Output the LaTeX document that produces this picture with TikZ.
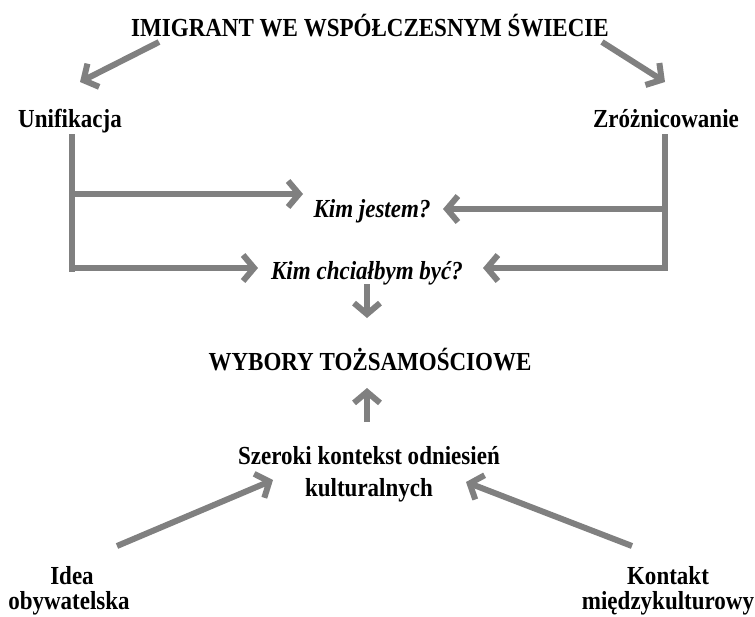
\documentclass[tikz,border=0pt]{standalone}
\usepackage{fontspec}
\setmainfont{Liberation Serif}[FakeStretch=0.885]
\usetikzlibrary{arrows.meta}
\definecolor{arrowgray}{RGB}{128,128,128}
\begin{document}
\begin{tikzpicture}[x=1pt,y=-1pt,
  lbl/.style={anchor=base,inner sep=0pt,font=\fontsize{26}{30}\selectfont\bfseries},
  qlbl/.style={lbl,font=\fontsize{26}{30}\selectfont\bfseries\itshape},
  conn/.style={draw=arrowgray,line width=6pt},
  arr/.style={conn,-{Straight Barb[length=11pt,width=26pt]}}]
\useasboundingbox (0,0) rectangle (755,616);
\node[lbl] (title) at (370,36) {IMIGRANT WE WSPÓŁCZESNYM ŚWIECIE};
\node[lbl] (unif) at (70,127) {Unifikacja};
\node[lbl] (zroz) at (666,127) {Zróżnicowanie};
\node[qlbl] (kim1) at (372,217) {Kim jestem?};
\node[qlbl] (kim2) at (367,279) {Kim chciałbym być?};
\node[lbl] (wyb) at (370,370) {WYBORY TOŻSAMOŚCIOWE};
\node[lbl] (szer) at (369,464) {Szeroki kontekst odniesień};
\node[lbl] (kult) at (369,496) {kulturalnych};
\node[lbl] (idea) at (72,584) {Idea};
\node[lbl] (obyw) at (69,609) {obywatelska};
\node[lbl] (kont) at (668,584) {Kontakt};
\node[lbl] (miedz) at (668,609) {międzykulturowy};
% coordinates
\coordinate (t1) at (159,42); \coordinate (u1) at (80,82);
\coordinate (t2) at (602,42); \coordinate (z1) at (665,82);
\coordinate (lt) at (72,134); \coordinate (lb) at (72,272);
\coordinate (l1) at (72,194); \coordinate (k1l) at (303,194);
\coordinate (l2) at (72,268); \coordinate (k2l) at (258,268);
\coordinate (rt) at (665,134); \coordinate (rb) at (665,271);
\coordinate (r1) at (665,209); \coordinate (k1r) at (443,209);
\coordinate (r2) at (665,268); \coordinate (k2r) at (483,268);
\coordinate (d1) at (367,284); \coordinate (d2) at (367,318);
\coordinate (u2) at (367,422); \coordinate (u3) at (367,388);
\coordinate (i1) at (117,546); \coordinate (s1) at (273,480);
\coordinate (m1) at (632,546); \coordinate (s2) at (466,482);
\draw[arr] (t1) -- (u1);
\draw[arr] (t2) -- (z1);
\draw[conn] (lt) -- (lb);
\draw[arr] (l1) -- (k1l);
\draw[arr] (l2) -- (k2l);
\draw[conn] (rt) -- (rb);
\draw[arr] (r1) -- (k1r);
\draw[arr] (r2) -- (k2r);
\draw[arr] (d1) -- (d2);
\draw[arr] (u2) -- (u3);
\draw[arr] (i1) -- (s1);
\draw[arr] (m1) -- (s2);
\end{tikzpicture}
\end{document}
